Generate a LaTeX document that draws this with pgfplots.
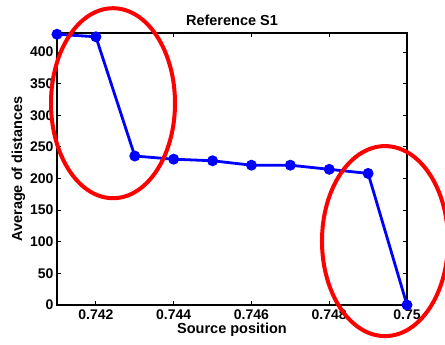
\documentclass[border=0pt]{standalone}
\usepackage{pgfplots}
\pgfplotsset{compat=1.18}
\usepackage{fontspec}
\setmainfont{Liberation Sans}
\begin{document}
\begin{tikzpicture}[x=1pt,y=1pt]
\begin{axis}[
  at={(0,0)}, anchor=south west,
  scale only axis, width=350pt, height=272pt,
  xmin=0.741, xmax=0.750, ymin=0, ymax=430,
  xtick={0.742,0.744,0.746,0.748,0.750},
  xticklabels={0.742,0.744,0.746,0.748,0.75},
  ytick={0,50,100,150,200,250,300,350,400},
  /pgf/number format/assume math mode=true,
  ticklabel style={font=\fontsize{14}{16}\selectfont\bfseries},
  label style={font=\fontsize{14.5}{16}\selectfont\bfseries},
  title style={font=\fontsize{14.5}{16}\selectfont\bfseries, yshift=-2pt},
  xticklabel style={yshift=-1pt},
  title={Reference S1},
  xlabel={Source position},
  ylabel={Average of distances},
  xlabel style={yshift=3pt},
  ylabel style={yshift=-2pt},
  tick align=inside, tick style={black, line width=0.8pt},
  major tick length=4pt,
  axis line style={line width=1.2pt},
  clip=false,
  scaled x ticks=false,
]
\addplot[blue, line width=2.8pt, mark=*, mark size=4pt] coordinates {
(0.741,428) (0.742,424) (0.743,235.5) (0.744,230.5) (0.745,228)
(0.746,221) (0.747,221) (0.748,214.5) (0.749,208) (0.750,0)
};
\draw[red, line width=4pt] (axis cs:0.74244,319) ellipse [x radius=62pt, y radius=95pt];
\draw[red, line width=4pt] (axis cs:0.749434,101) ellipse [x radius=63pt, y radius=95pt];
\end{axis}
\pgfresetboundingbox
\useasboundingbox (-57,-40) rectangle (388,305);
\end{tikzpicture}
\end{document}
